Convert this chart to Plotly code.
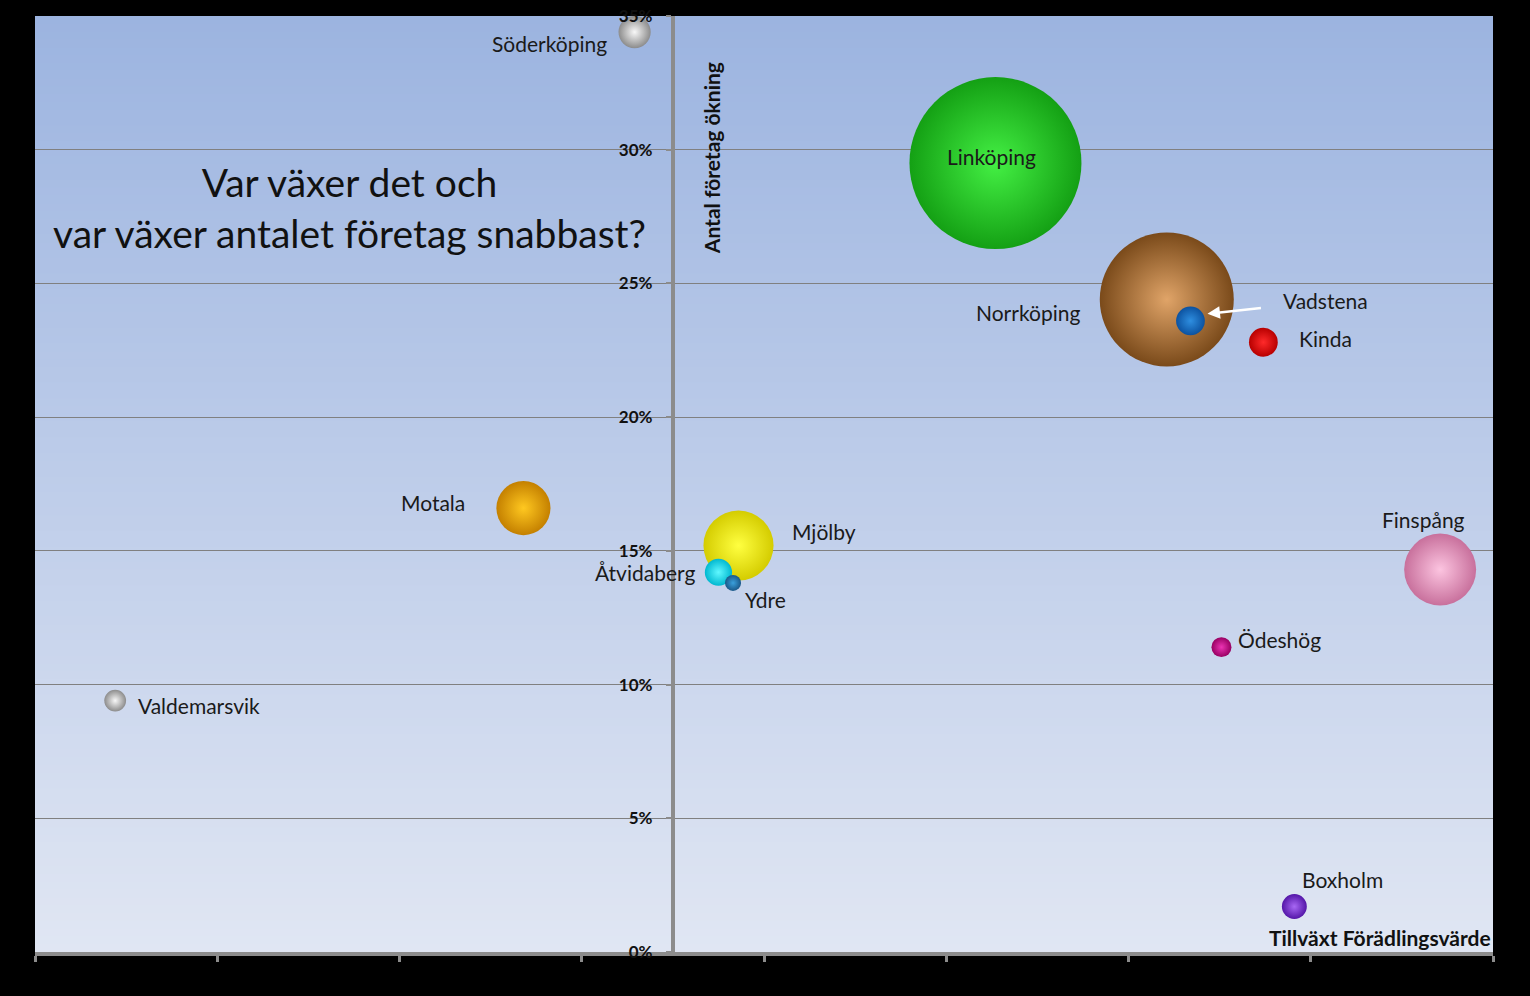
import plotly.graph_objects as go

# ---- data ----
kommuner = ["Linköping", "Norrköping", "Finspång", "Mjölby", "Motala", "Söderköping",
            "Vadstena", "Kinda", "Åtvidaberg", "Boxholm", "Valdemarsvik", "Ödeshög", "Ydre"]
tillvaxt_foradlingsvarde = [17.7, 27.1, 42.1, 3.6, -8.2, -2.1, 28.4, 32.4, 2.5, 34.1, -30.6, 30.1, 3.3]
antal_foretag_okning = [29.5, 24.4, 14.3, 15.2, 16.6, 34.4, 23.6, 22.8, 14.2, 1.7, 9.4, 11.4, 13.8]
bubbelstorlek = [100, 60.7, 17.5, 16.6, 9.9, 3.5, 2.8, 2.8, 2.5, 2.1, 1.6, 1.35, 0.87]

y_ticks = [0, 5, 10, 15, 20, 25, 30, 35]
x_range = [-35, 45]
y_range = [0, 35]

# ---- styles ----
center_colors = ["#44f044", "#e0a468", "#fcc4e0", "#ffff40", "#ffc820", "#f8f8f8",
                 "#2e8ee0", "#ff2a2a", "#60f8ff", "#a868f4", "#f8f8f8", "#ec34b4", "#3aa0dc"]
edge_colors = ["#14a014", "#7a4a1a", "#c8709c", "#d4cc00", "#c48000", "#8c8c8c",
               "#0c52a0", "#b80000", "#00b8d0", "#5416a8", "#8c8c8c", "#980062", "#1a5888"]
label_dx = [-4, -139, -17, 86, -90, -85, 135, 62, -73, 48, 84, 58, 32]
label_dy = [7, -13, 50, 14, 6, -11, 20, 4, 0, 27, -5, 8, -17]

max_diam = 172
fig = go.Figure()
fig.add_trace(go.Scatter(
    x=tillvaxt_foradlingsvarde, y=antal_foretag_okning, mode="markers",
    hoverinfo="text", text=kommuner,
    marker=dict(size=bubbelstorlek, sizemode="area",
                sizeref=2 * max(bubbelstorlek) / max_diam ** 2,
                color=edge_colors, line=dict(width=0), opacity=1,
                gradient=dict(type="radial", color=center_colors)),
    showlegend=False,
))

# gradient background bands
top = (156, 180, 224)
bot = (224, 230, 243)
n = 120
shapes = []
for i in range(n):
    t = i / (n - 1)
    c = tuple(round(bot[k] + (top[k] - bot[k]) * t) for k in range(3))
    shapes.append(dict(type="rect", xref="paper", yref="paper", x0=0, x1=1,
                       y0=i / n, y1=(i + 1.6) / n if i < n - 1 else 1,
                       fillcolor="rgb(%d,%d,%d)" % c, line=dict(width=0), layer="below"))

FONT = "Lato, Open Sans, sans-serif"
annotations = []
lab_font = dict(family=FONT, size=21, color="#1a1a1a")
for name, xv, yv, dx, dy in zip(kommuner, tillvaxt_foradlingsvarde, antal_foretag_okning, label_dx, label_dy):
    annotations.append(dict(x=xv, y=yv, xref="x", yref="y", text=name, showarrow=False,
                            xshift=dx, yshift=dy, font=lab_font))

# arrow to Vadstena
vi = kommuner.index("Vadstena")
annotations.append(dict(x=tillvaxt_foradlingsvarde[vi], y=antal_foretag_okning[vi], xref="x", yref="y",
                        text="", showarrow=True, xshift=17, yshift=7, ax=55, ay=-6,
                        arrowcolor="white", arrowwidth=2.5, arrowhead=2, arrowsize=1))

# title
annotations.append(dict(x=0.216, y=0.795, xref="paper", yref="paper",
                        text="Var växer det och<br>var växer antalet företag snabbast?",
                        showarrow=False, xanchor="center", yanchor="middle",
                        font=dict(family=FONT, size=39, color="#111111")))
# axis titles
annotations.append(dict(x=0, y=0.848, xref="x", yref="paper", xshift=38,
                        text="<b>Antal företag ökning</b>", textangle=-90, showarrow=False,
                        xanchor="center", yanchor="middle",
                        font=dict(family=FONT, size=21, color="#111111")))
annotations.append(dict(x=1, y=0.015, xref="paper", yref="paper",
                        text="<b>Tillväxt Förädlingsvärde</b>", showarrow=False,
                        xanchor="right", yanchor="middle",
                        font=dict(family=FONT, size=21, color="#111111")))

fig.update_layout(
    width=1530, height=996,
    margin=dict(l=35, r=37, t=16, b=44, pad=0, autoexpand=False),
    paper_bgcolor="black",
    plot_bgcolor="rgb(190,205,234)",
    shapes=shapes,
    annotations=annotations,
    xaxis=dict(range=x_range, tick0=-35, dtick=10, showticklabels=False,
               ticks="outside", ticklen=6, tickwidth=3, tickcolor="#8c8c8c",
               showline=True, linecolor="#8c8c8c", linewidth=4, automargin=False,
               showgrid=False, zeroline=False, fixedrange=True),
    yaxis=dict(range=y_range, tickvals=y_ticks, ticktext=["%d%%" % v for v in y_ticks],
               anchor="free", position=(0 - x_range[0]) / (x_range[1] - x_range[0]),
               showline=True, linecolor="#8c8c8c", linewidth=4, automargin=False,
               ticks="outside", ticklen=5, tickwidth=2, tickcolor="#8c8c8c",
               ticklabelstandoff=10,
               showgrid=True, gridcolor="#808080", gridwidth=1, zeroline=False,
               tickfont=dict(family=FONT, size=17, color="#111111", weight="bold"),
               fixedrange=True),
)

fig.write_html("out.html", config={"displayModeBar": False},
               post_script="document.body.style.margin='0';document.body.style.overflow='hidden';")
